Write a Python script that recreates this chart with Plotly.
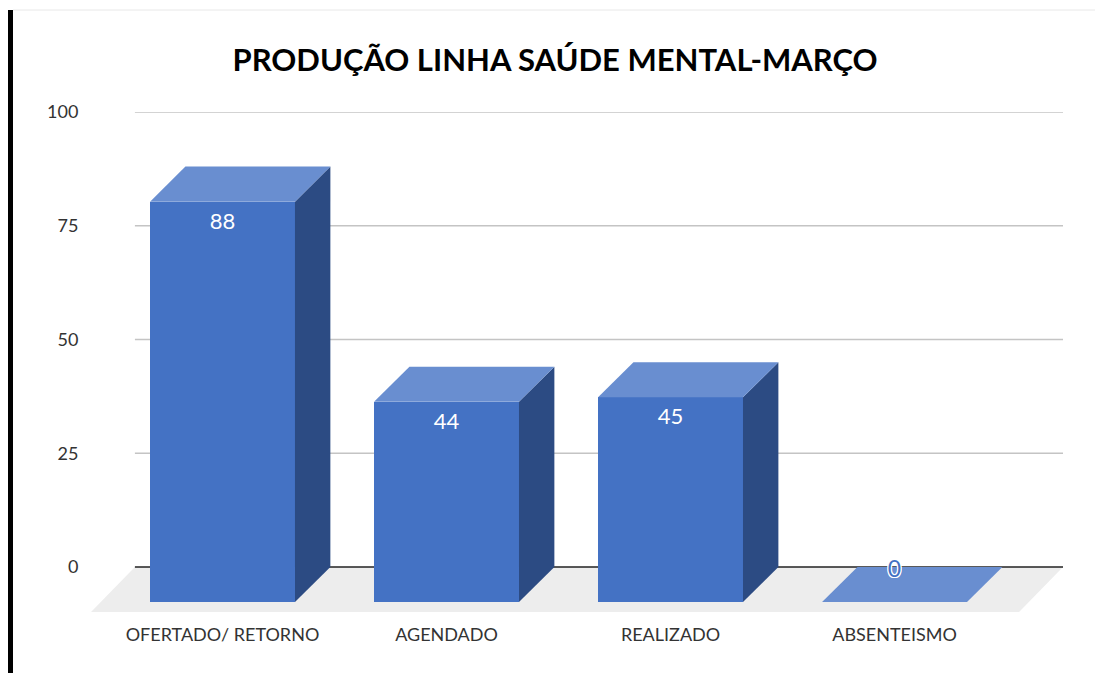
import plotly.graph_objects as go

# ---- data ----
categories = ["OFERTADO/ RETORNO", "AGENDADO", "REALIZADO", "ABSENTEISMO"]
values = [88, 44, 45, 0]
y_ticks = [0, 25, 50, 75, 100]
title = "PRODUÇÃO LINHA SAÚDE MENTAL-MARÇO"

# ---- pseudo-3D geometry, in axis units ----
bar_width = 0.647
depth_x = 0.158
depth_y = 7.7
floor_y = -9.9
floor_dx = 0.196
x_min = -0.587
x_max = 3.752
floor_right_front = x_max - floor_dx

FRONT, TOP, SIDE = "#4472c4", "#698ed0", "#2c4b83"
FLOOR, GRID, ZERO, FONT = "#ededed", "#c4c4c4", "#222222", "Lato"

pos = list(range(len(categories)))
fig = go.Figure()

# side and top faces computed from the values
for i, v in zip(pos, values):
    xl, xr = i - bar_width / 2, i + bar_width / 2
    fig.add_trace(go.Scatter(
        x=[xr, xr + depth_x, xr + depth_x, xr, xr],
        y=[-depth_y, 0, v, v - depth_y, -depth_y],
        mode="lines", line=dict(width=0), fill="toself", fillcolor=SIDE,
        hoverinfo="skip", showlegend=False))
    fig.add_trace(go.Scatter(
        x=[xl, xl + depth_x, xr + depth_x, xr, xl],
        y=[v - depth_y, v, v, v - depth_y, v - depth_y],
        mode="lines", line=dict(width=0), fill="toself", fillcolor=TOP,
        hoverinfo="skip", showlegend=False))

# front faces
fig.add_trace(go.Bar(x=pos, y=values, base=-depth_y, width=bar_width,
                     marker=dict(color=FRONT, line=dict(width=0)),
                     showlegend=False))

# data labels
nz = [(i, v) for i, v in zip(pos, values) if v > 0]
fig.add_trace(go.Scatter(
    x=[i for i, _ in nz], y=[v - depth_y - 4.7 for _, v in nz],
    text=[str(v) for _, v in nz], mode="text",
    textfont=dict(family=FONT, size=22, color="white"),
    textposition="middle center", hoverinfo="skip", showlegend=False))
z = [(i, v) for i, v in zip(pos, values) if v == 0]
fig.add_trace(go.Scatter(
    x=[i for i, _ in z], y=[v - 1.0 for _, v in z],
    text=[str(v) for _, v in z], mode="text",
    textfont=dict(family=FONT, size=23, color=FRONT,
                  shadow="1px 0 0 #fff,-1px 0 0 #fff,0 1px 0 #fff,0 -1px 0 #fff,1px 1px 0 #fff,-1px -1px 0 #fff,1px -1px 0 #fff,-1px 1px 0 #fff"),
    textposition="middle center", hoverinfo="skip", showlegend=False))

# floor and grid below the marks
shapes = [dict(type="path", layer="below", xref="x", yref="y",
               path=f"M {x_min} {floor_y} L {floor_right_front} {floor_y} L {x_max} 0 L {x_min + floor_dx} 0 Z",
               fillcolor=FLOOR, line=dict(width=0))]
for t in y_ticks:
    shapes.append(dict(type="line", layer="below", xref="x", yref="y",
                       x0=x_min + floor_dx, x1=x_max, y0=t, y1=t,
                       line=dict(color=ZERO if t == 0 else GRID, width=1.5)))

fig.update_layout(
    width=1095, height=673, autosize=False,
    margin=dict(l=91, r=32, t=112, b=61),
    paper_bgcolor="white", plot_bgcolor="white",
    bargap=0, showlegend=False, shapes=shapes,
    title=dict(text=f"<b>{title}</b>", x=555 / 1095, xanchor="center",
               y=1 - 60 / 673, yanchor="middle",
               font=dict(family=FONT, size=31, color="#000000")),
    xaxis=dict(range=[x_min, x_max], tickmode="array", tickvals=pos, ticktext=categories,
               showgrid=False, zeroline=False, showline=False,
               ticks="outside", ticklen=6, tickcolor="rgba(0,0,0,0)",
               tickfont=dict(family=FONT, size=18, color="#333333")),
    yaxis=dict(range=[floor_y, 100], tickmode="array", tickvals=y_ticks,
               showgrid=False, zeroline=False, showline=False,
               ticks="outside", ticklen=8, tickcolor="rgba(0,0,0,0)",
               tickfont=dict(family=FONT, size=18, color="#333333")),
)
# page frame: black rule on the left, faint rule on top
fig.add_shape(type="rect", xref="paper", yref="paper",
              x0=(8 - 91) / 972, x1=(13 - 91) / 972, y0=-61 / 500, y1=(612 - 10) / 500,
              fillcolor="#000000", line=dict(width=0))
fig.add_shape(type="line", xref="paper", yref="paper",
              x0=(13 - 91) / 972, x1=(1095 - 91) / 972, y0=(612 - 10) / 500, y1=(612 - 10) / 500,
              line=dict(color="#e8e8e8", width=1))

fig.write_html("out.html", config={"displayModeBar": False},
               post_script="document.body.style.margin='0';document.body.style.overflow='hidden';")
